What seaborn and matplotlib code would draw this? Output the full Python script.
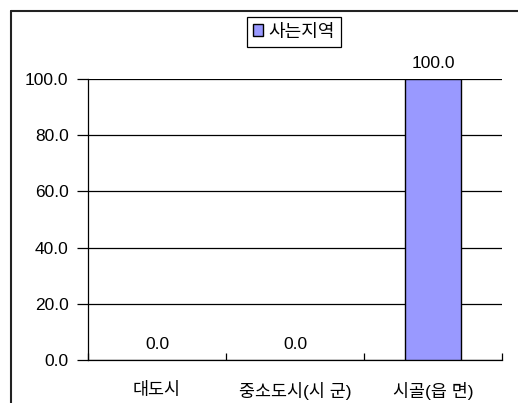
import numpy as np
import pandas as pd
import seaborn as sns
import matplotlib as mpl
from matplotlib import pyplot as plt
from matplotlib.lines import Line2D
from matplotlib.patches import Patch

categories = ["대도시", "중소도시(시 군)", "시골(읍 면)"]
values = [0.0, 0.0, 100.0]
series_name = "사는지역"
yticks = [0, 20, 40, 60, 80, 100]

sns.set_style("white")
plt.rcParams["font.family"] = ["Liberation Sans", "Noto Sans CJK KR", "DejaVu Sans"]
plt.rcParams["text.color"] = "black"
plt.rcParams["xtick.color"] = "black"
plt.rcParams["ytick.color"] = "black"

df = pd.DataFrame({"region": categories, "pct": values})

W, H = 518, 403
fig = plt.figure(figsize=(W / 100, H / 100), dpi=100)
ax = fig.add_axes([88 / W, 1 - 360 / H, (502 - 88) / W, (360 - 79) / H])

sns.barplot(df, x="region", y="pct", color="#9999FF", edgecolor="black",
            linewidth=1, width=0.4, saturation=1, ax=ax, zorder=3)

# zero-height bars should stay invisible
for bar, v in zip(ax.patches, values):
    if v == 0:
        bar.set_edgecolor("none")

ax.set_ylim(0, 100)
ax.set_xlim(-0.5, 2.5)
ax.set_yticks(yticks)
ax.set_yticklabels([f"{v:.1f}" for v in yticks], fontsize=12.5)
ax.yaxis.grid(True, color="black", linewidth=0.9)
ax.set_axisbelow(True)
ax.set_xlabel("")
ax.set_ylabel("")
ax.tick_params(axis="y", left=True, direction="out", length=8, width=0.9, pad=6)
ax.tick_params(axis="x", which="major", bottom=True, length=0, pad=16, labelsize=12.5)
ax.set_xticks(np.arange(-0.5, 3, 1), minor=True)
ax.tick_params(axis="x", which="minor", bottom=True, direction="in", length=5, width=0.9)

for side in ["top", "right"]:
    ax.spines[side].set_visible(False)
for side in ["left", "bottom"]:
    ax.spines[side].set_color("black")
    ax.spines[side].set_linewidth(0.9)

ax.bar_label(ax.containers[0], fmt="%.1f", padding=6, fontsize=12.5)

leg = fig.legend(handles=[Patch(facecolor="#9999FF", edgecolor="black", label=series_name)],
                 loc="center", bbox_to_anchor=(294 / W, 1 - 32 / H), fontsize=13,
                 fancybox=False, handlelength=0.55, handleheight=0.6,
                 handletextpad=0.3, borderpad=0.35, borderaxespad=0, framealpha=1)
leg.get_frame().set_edgecolor("black")
leg.get_frame().set_linewidth(0.9)

# outer chart frame (left and top edges)
fig.add_artist(Line2D([10.5 / W, 10.5 / W], [0, 1 - 10.5 / H], color="#222222", lw=1.5))
fig.add_artist(Line2D([10.5 / W, 1], [1 - 10.5 / H, 1 - 10.5 / H], color="#222222", lw=1.5))

fig.savefig("out.png", dpi=100)
